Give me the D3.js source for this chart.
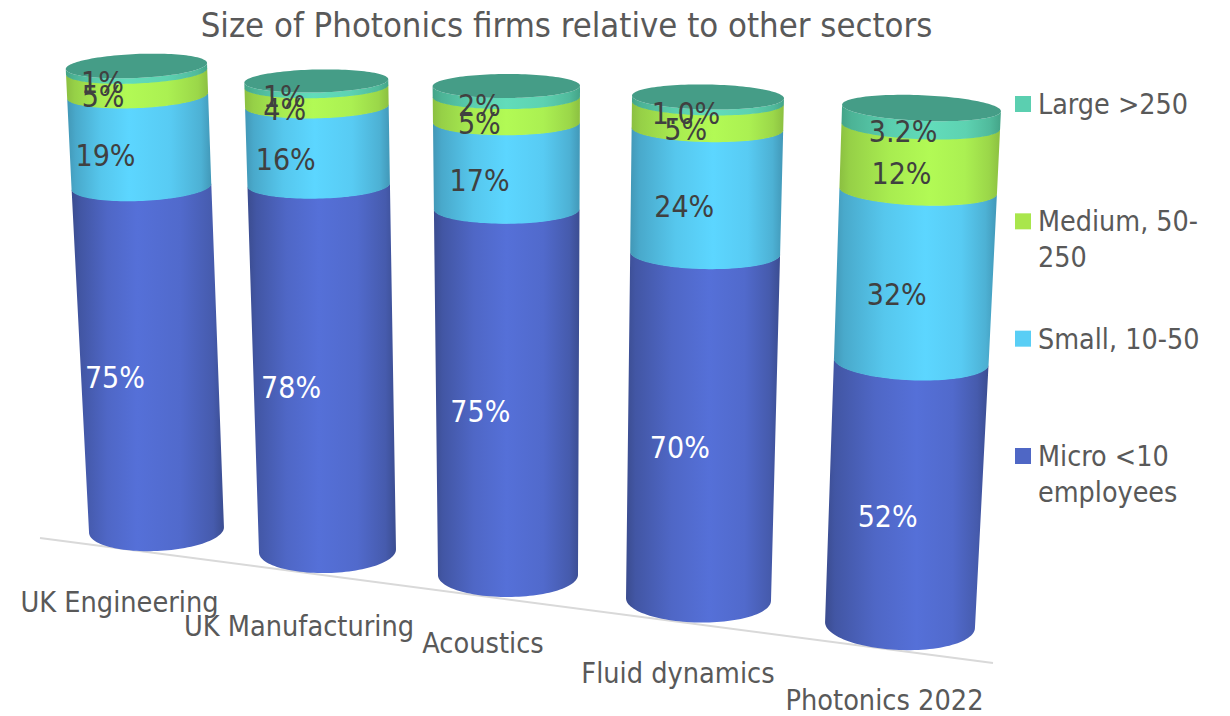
<!DOCTYPE html>
<html><head><meta charset="utf-8">
<script src="https://cdn.jsdelivr.net/npm/d3@7/dist/d3.min.js"></script>
<style>
html,body{margin:0;padding:0;background:#fff;overflow:hidden}
text{font-family:"DejaVu Sans",sans-serif;font-stretch:condensed}
</style></head><body>
<svg id="chart" width="1230" height="716"></svg>
<script>
// ---- data ----
const categories = ["UK Engineering","UK Manufacturing","Acoustics","Fluid dynamics","Photonics 2022"];
const seriesNames = ["Micro <10 employees","Small, 10-50","Medium, 50-250","Large >250"];
const micro  = [75,78,75,70,52];
const small  = [19,16,17,24,32];
const medium = [5,4,5,5,12];
const large  = [1,1,2,1.0,3.2];
const microLabels  = ["75%","78%","75%","70%","52%"];
const smallLabels  = ["19%","16%","17%","24%","32%"];
const mediumLabels = ["5%","4%","5%","5%","12%"];
const largeLabels  = ["1%","1%","2%","1.0%","3.2%"];

// ---- layout of the perspective view (not data) ----
const ordinal = r => d3.scaleOrdinal(categories, r);
const baseCx  = ordinal([156.5,327.5,508,698.5,900]);
const baseRx  = ordinal([67.5,68.5,70,72.5,75]);
const baseRy  = ordinal([21,22,22,23,25]);
const baseFront = ordinal([551,573,597,622.5,650]);
const topCx   = ordinal([136.4,316.3,506.3,708,921.5]);
const topRx   = ordinal([70.7,72,73.7,76,79.5]);
const topRy   = ordinal([12,11.5,12,12.5,12.8]);
const topFront = ordinal([78,92.5,98,109.5,120.8]);
const labelDx = ordinal([-33,-31,-26,-21,-17]);
const highlight = ordinal([.43,.48,.5,.54,.56]);
const catLabelX = ordinal([119.5,299,483,678,884.5]);
const catLabelY = ordinal([612,636,653,683,710]);

const bright = d3.scaleOrdinal(seriesNames,["#5570D8","#5CD6FF","#B2FA55","#62DCBA"]);
const edge   = d3.scaleOrdinal(seriesNames,["#35447F","#3C89A6","#82B23C","#3C967C"]);
const swatch = d3.scaleOrdinal(seriesNames,["#4F67C5","#59CEF5","#A9E64C","#5BCFB0"]);
const labelColor = d3.scaleOrdinal(seriesNames,["#ffffff","#404040","#404040","#404040"]);
const capColor = "#459D87";
const textColor = "#595959";

const svg = d3.select("#chart");
const defs = svg.append("defs");

svg.append("text").attr("x",566.5).attr("y",37).attr("text-anchor","middle")
  .attr("font-size",34.4).attr("fill",textColor)
  .text("Size of Photonics firms relative to other sectors");

// axis line along the floor
const floor = d3.scaleLinear().domain([0,1]).range([40,993]);
const floorY = d3.scaleLinear().domain([40,993]).range([538,663]);
svg.append("line").attr("x1",floor(0)).attr("y1",floorY(floor(0)))
  .attr("x2",floor(1)).attr("y2",floorY(floor(1)))
  .attr("stroke","#D9D9D9").attr("stroke-width",2);

const line = d3.line();
const tt = d3.range(0,61).map(i=>i/60*Math.PI);

categories.forEach((cat,ci)=>{
  const vals = [micro[ci],small[ci],medium[ci],large[ci]];
  const labs = [microLabels[ci],smallLabels[ci],mediumLabels[ci],largeLabels[ci]];
  const total = d3.sum(vals);
  const cum = d3.cumsum(vals);
  const frac = d3.scaleLinear().domain([0,total]).range([0,1]);
  const front = d3.scalePow().exponent(1.04).domain([0,1]).range([baseFront(cat),topFront(cat)]);
  const cx = d3.scaleLinear().domain([0,1]).range([baseCx(cat),topCx(cat)]);
  const rx = d3.scaleLinear().domain([0,1]).range([baseRx(cat),topRx(cat)]);
  const ry = d3.scaleLinear().domain([0,1]).range([baseRy(cat),topRy(cat)]);
  const tilt = Math.atan2(baseCx(cat)-topCx(cat),(baseFront(cat)-baseRy(cat))-(topFront(cat)-topRy(cat)));
  const ang = -tilt;
  const pt = (f,t)=>{
    const X=rx(f)*Math.cos(t),Y=ry(f)*Math.sin(t);
    const cy=front(f)-ry(f);
    return [cx(f)+X*Math.cos(ang)-Y*Math.sin(ang), cy+X*Math.sin(ang)+Y*Math.cos(ang)];
  };
  const g = svg.append("g");
  seriesNames.forEach((s,si)=>{
    const f0 = frac(si?cum[si-1]:0), f1 = frac(cum[si]);
    const id=`g${ci}_${si}`;
    const h=highlight(cat);
    const mix=d3.interpolateRgb(edge(s),bright(s));
    const lg=defs.append("linearGradient").attr("id",id);
    [[0,.18],[.06,.42],[h*.55,.8],[h,1],[h+(1-h)*.5,.86],[.93,.52],[1,.2]]
      .forEach(([o,m])=>lg.append("stop").attr("offset",o).attr("stop-color",mix(m)));
    // strip: upper front arc left to right, then lower front arc back
    const upper = tt.map(t=>pt(f1,Math.PI-t));
    const lower = tt.map(t=>{const p=pt(f0,t); return si?[p[0],p[1]+.6]:p;});
    g.append("path").attr("d",line(upper.concat(lower))+"Z").attr("fill",`url(#${id})`);
  });
  // top cap
  const cap = d3.range(0,121).map(i=>pt(1,i/120*2*Math.PI));
  g.append("path").attr("d",line(cap)+"Z").attr("fill",capColor);

  // data labels
  seriesNames.forEach((s,si)=>{
    const f0 = frac(si?cum[si-1]:0), f1 = frac(cum[si]);
    const fm=(f0+f1)/2;
    g.append("text").attr("x",cx(fm)+labelDx(cat)-1)
      .attr("y",(front(f0)+front(f1))/2+1.5).attr("dy","0.36em")
      .attr("text-anchor","middle").attr("font-size",30).attr("fill",labelColor(s))
      .text(labs[si]);
  });

  svg.append("text").attr("x",catLabelX(cat)).attr("y",catLabelY(cat))
    .attr("text-anchor","middle").attr("font-size",28.6).attr("fill",textColor).text(cat);
});

// legend
const legendOrder = ["Large >250","Medium, 50-250","Small, 10-50","Micro <10 employees"];
const legendLines = [["Large >250"],["Medium, 50-","250"],["Small, 10-50"],["Micro <10","employees"]];
const legendY = d3.scalePoint().domain(legendOrder).range([104,456]);
legendOrder.forEach((s,i)=>{
  const y=legendY(s);
  svg.append("rect").attr("x",1015).attr("y",y-8).attr("width",16).attr("height",16).attr("fill",swatch(s));
  legendLines[i].forEach((t,j)=>svg.append("text").attr("x",1038).attr("y",y+10+j*36)
    .attr("font-size",28.4).attr("fill",textColor).text(t));
});
</script>
</body></html>
